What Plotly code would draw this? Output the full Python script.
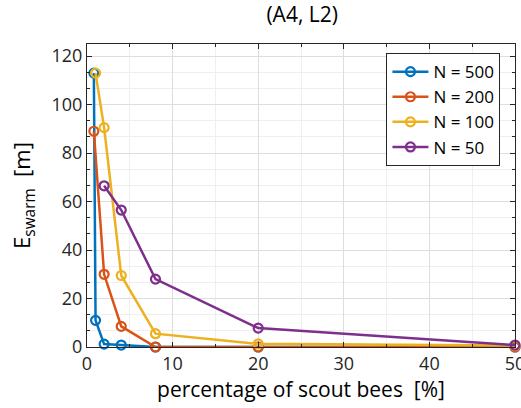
import plotly.graph_objects as go

# percentage of scout bees [%] and swarm error [m] per swarm size
x_n500 = [0.8, 1.0, 2, 4, 8, 20, 50]
y_n500 = [113, 11, 1.2, 0.8, 0, 0, 0]

x_n200 = [0.8, 2, 4, 8, 20, 50]
y_n200 = [89, 30, 8.5, 0, 0, 0]

x_n100 = [1.0, 2, 4, 8, 20, 50]
y_n100 = [113, 90.5, 29.5, 5.5, 1.3, 0.6]

x_n50 = [2, 4, 8, 20, 50]
y_n50 = [66.5, 56.5, 28, 7.8, 0.8]

series = [
    ("N = 500", x_n500, y_n500, "#0072BD"),
    ("N = 200", x_n200, y_n200, "#D95319"),
    ("N = 100", x_n100, y_n100, "#EDB120"),
    ("N = 50", x_n50, y_n50, "#7E2F8E"),
]

FONT = "Open Sans"

fig = go.Figure()
for name, xs, ys, color in series:
    fig.add_trace(
        go.Scatter(
            x=xs,
            y=ys,
            mode="lines+markers",
            name=name,
            line={"color": color, "width": 2.5},
            marker={"symbol": "circle-open", "size": 9, "color": color, "line": {"width": 2.2, "color": color}},
            cliponaxis=False,
        )
    )

axis_common = {
    "showline": True,
    "linecolor": "#262626",
    "linewidth": 1,
    "mirror": "ticks",
    "ticks": "inside",
    "ticklen": 5,
    "tickcolor": "#262626",
    "showgrid": True,
    "gridcolor": "#dedede",
    "gridwidth": 1,
    "zeroline": False,
    "automargin": False,
    "ticklabeloverflow": "allow",
    "tickfont": {"family": FONT, "size": 18, "color": "#262626"},
}

fig.update_layout(
    width=521,
    height=408,
    margin={"l": 87, "r": 6, "t": 44, "b": 61},
    paper_bgcolor="white",
    plot_bgcolor="white",
    title={
        "text": "(A4, L2)",
        "x": 0.58,
        "xref": "container",
        "xanchor": "center",
        "y": 0.963,
        "yanchor": "middle",
        "font": {"family": FONT, "size": 21, "color": "black"},
    },
    xaxis={
        **axis_common,
        "range": [0, 50],
        "dtick": 10,
        "tick0": 0,
        "minor": {"dtick": 5, "showgrid": True, "gridcolor": "#efefef", "ticks": "inside", "ticklen": 3},
        "title": {"text": "percentage of scout bees  [%]", "font": {"family": FONT, "size": 21, "color": "black"}, "standoff": 2},
    },
    yaxis={
        **axis_common,
        "range": [0, 125],
        "dtick": 20,
        "tick0": 0,
        "minor": {"dtick": 20 / 3, "showgrid": True, "gridcolor": "#efefef", "ticks": "inside", "ticklen": 3},
        "title": {"text": "E<sub>swarm</sub>  [m]", "font": {"family": FONT, "size": 22, "color": "black"}, "standoff": 14},
    },
    legend={
        "x": 0.966,
        "y": 0.97,
        "xanchor": "right",
        "yanchor": "top",
        "bgcolor": "white",
        "bordercolor": "#262626",
        "borderwidth": 1,
        "font": {"family": FONT, "size": 17, "color": "black"},
        "tracegroupgap": 0,
        "itemwidth": 36,
    },
    showlegend=True,
)

fig.write_html(
    "out.html",
    config={"displayModeBar": False},
    post_script="document.body.style.margin = '0px';",
)
